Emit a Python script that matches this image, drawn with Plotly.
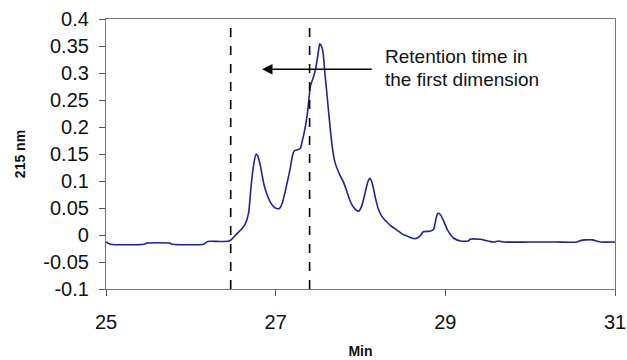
import plotly.graph_objects as go

# Chromatogram trace
time_min = [25.00, 25.05, 25.45, 25.48, 25.75, 25.78, 26.15, 26.20, 26.34, 26.45, 26.48,
            26.54, 26.60, 26.64, 26.68, 26.71, 26.74, 26.77, 26.79, 26.82, 26.86, 26.90,
            26.94, 26.98, 27.01, 27.05, 27.08, 27.11, 27.14, 27.17, 27.20, 27.22, 27.26,
            27.29, 27.31, 27.33, 27.36, 27.38, 27.41, 27.44, 27.47, 27.50, 27.52, 27.54,
            27.56, 27.58, 27.60, 27.64, 27.67, 27.70, 27.76, 27.80, 27.84, 27.88, 27.92,
            27.96, 27.98, 28.01, 28.04, 28.06, 28.09, 28.11, 28.13, 28.15, 28.18, 28.21,
            28.25, 28.31, 28.35, 28.43, 28.49, 28.58, 28.64, 28.70, 28.74, 28.82, 28.86,
            28.89, 28.91, 28.94, 28.98, 29.03, 29.10, 29.18, 29.27, 29.29, 29.41, 29.50,
            29.57, 29.63, 29.69, 30.00, 30.30, 30.55, 30.60, 30.65, 30.73, 30.80, 30.83,
            31.00]
absorbance = [-0.013, -0.017, -0.017, -0.015, -0.015, -0.017, -0.017, -0.012, -0.012, -0.011, -0.008,
              0.002, 0.011, 0.020, 0.040, 0.090, 0.130, 0.150, 0.146, 0.128, 0.095, 0.074,
              0.060, 0.052, 0.049, 0.050, 0.060, 0.079, 0.100, 0.122, 0.148, 0.156, 0.158,
              0.160, 0.172, 0.185, 0.210, 0.233, 0.276, 0.290, 0.307, 0.335, 0.354, 0.350,
              0.336, 0.300, 0.268, 0.202, 0.160, 0.134, 0.110, 0.098, 0.080, 0.062, 0.051,
              0.045, 0.044, 0.052, 0.068, 0.082, 0.100, 0.105, 0.100, 0.088, 0.066, 0.048,
              0.035, 0.024, 0.018, 0.009, 0.002, -0.004, -0.007, -0.002, 0.006, 0.007, 0.010,
              0.030, 0.040, 0.038, 0.026, 0.008, -0.006, -0.011, -0.011, -0.008, -0.008, -0.011,
              -0.013, -0.011, -0.013, -0.013, -0.013, -0.013, -0.010, -0.009, -0.009, -0.012, -0.013,
              -0.013]

# Cut positions (dashed lines) and arrow, in data units
dashed_positions = [26.47, 27.40]
arrow_tail = (28.15, 0.307)
arrow_head = (26.84, 0.307)
label_lines = ["Retention time in", "the first dimension"]
label_x = 28.27
label_y = [0.331, 0.288]

x_ticks = [25, 27, 29, 31]
y_ticks = [-0.1, -0.05, 0, 0.05, 0.1, 0.15, 0.2, 0.25, 0.3, 0.35, 0.4]
y_ticktext = ["-0.1", "-0.05", "0", "0.05", "0.1", "0.15", "0.2", "0.25", "0.3", "0.35", "0.4"]

FONT = "Liberation Sans, Arial, sans-serif"

fig = go.Figure()
fig.add_trace(go.Scatter(x=time_min, y=absorbance, mode="lines",
                         line=dict(color="#222290", width=1.6, shape="spline", smoothing=0.6),
                         showlegend=False, hoverinfo="skip"))

for xv in dashed_positions:
    fig.add_shape(type="line", xref="x", yref="paper", x0=xv, x1=xv, y0=0, y1=1,
                  line=dict(color="black", width=1.6, dash="dash"))

fig.add_annotation(x=arrow_head[0], y=arrow_head[1], ax=arrow_tail[0], ay=arrow_tail[1],
                   xref="x", yref="y", axref="x", ayref="y", text="", showarrow=True,
                   arrowhead=2, arrowsize=1.3, arrowwidth=1.6, arrowcolor="black")

for txt, yv in zip(label_lines, label_y):
    fig.add_annotation(x=label_x, y=yv, xref="x", yref="y", text=txt, showarrow=False,
                       xanchor="left", yanchor="middle",
                       font=dict(family=FONT, size=19, color="#111"))

fig.update_layout(
    width=627, height=360,
    margin=dict(l=106, r=12, t=19, b=71),
    paper_bgcolor="white", plot_bgcolor="white",
    font=dict(family=FONT, color="#111"),
)
fig.update_xaxes(range=[25, 31], tickvals=x_ticks, ticks="outside", ticklen=6,
                 tickcolor="#555", showgrid=False, zeroline=False, automargin=False,
                 showline=True, linecolor="#777", linewidth=1.2, mirror=True,
                 tickfont=dict(size=20, family=FONT), ticklabelstandoff=9,
                 title=dict(text="<b>Min</b>", font=dict(size=14, family=FONT), standoff=14))
fig.update_yaxes(range=[-0.1, 0.4], tickvals=y_ticks, ticktext=y_ticktext, ticks="outside",
                 ticklen=6, tickcolor="#555", showgrid=False, zeroline=False, automargin=False,
                 showline=True, linecolor="#777", linewidth=1.2, mirror=True,
                 tickfont=dict(size=20, family=FONT), ticklabelstandoff=6,
                 title=dict(text="<b>215 nm</b>", font=dict(size=14, family=FONT), standoff=14))

fig.write_html("out.html")
